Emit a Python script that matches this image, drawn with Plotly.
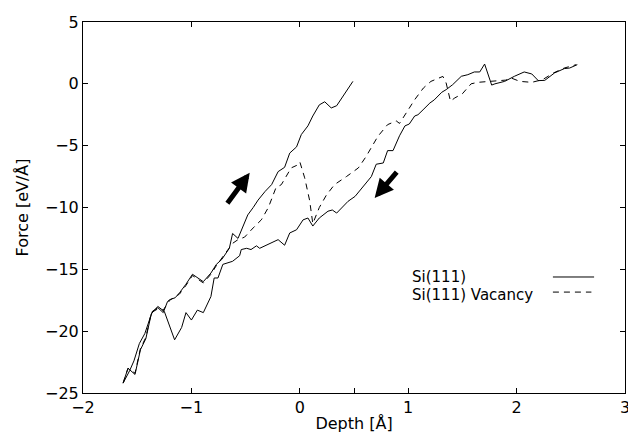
import plotly.graph_objects as go

# Si(111): loading branch (right end -> bottom) followed by unloading branch (bottom -> top)
si_x = [2.56, 2.49, 2.44, 2.35, 2.26, 2.20, 2.14, 2.07, 1.98, 1.89, 1.80, 1.77, 1.705, 1.66, 1.61,
        1.55, 1.49, 1.41, 1.35, 1.31, 1.24, 1.20, 1.137, 1.09, 1.06, 1.01, 0.97, 0.92, 0.86, 0.81,
        0.77, 0.705, 0.66, 0.58, 0.51, 0.445, 0.39, 0.34, 0.30, 0.26, 0.18, 0.12, 0.075, 0.03,
        -0.03, -0.093, -0.14, -0.20, -0.37, -0.40, -0.45, -0.49, -0.54, -0.555, -0.62, -0.68,
        -0.71, -0.755, -0.79, -0.82, -0.89, -0.945, -1.00, -1.05, -1.09, -1.155, -1.25, -1.31,
        -1.37, -1.42, -1.47, -1.52, -1.585, -1.63,
        -1.57, -1.53, -1.48, -1.43, -1.36, -1.31, -1.26, -1.22, -1.20, -1.15, -1.11, -1.05, -0.99,
        -0.89, -0.82, -0.77, -0.72, -0.65, -0.62, -0.57, -0.52, -0.48, -0.43, -0.385, -0.32,
        -0.26, -0.20, -0.14, -0.093, -0.03, 0.014, 0.075, 0.12, 0.18, 0.23, 0.29, 0.34, 0.40,
        0.445, 0.49]
si_y = [1.55, 1.28, 1.23, 0.88, 0.28, 0.26, 0.80, 0.96, 0.61, 0.20, 0.00, -0.10, 1.60, 0.96, 0.96,
        0.74, 0.61, -0.07, -0.47, -0.68, -1.30, -1.55, -2.10, -2.50, -2.60, -3.25, -3.40, -4.20, -5.40, -5.40,
        -6.40, -6.50, -7.50, -8.40, -9.10, -9.50, -10.00, -10.45, -10.20, -10.30, -10.85, -11.50, -10.85, -11.00,
        -11.80, -12.06, -13.05, -12.60, -13.30, -13.10, -13.40, -13.30, -13.40, -13.90, -14.35, -14.50,
        -14.60, -15.70, -15.70, -17.20, -18.50, -18.30, -19.10, -18.50, -19.70, -20.70, -18.40, -18.00,
        -18.60, -20.60, -21.50, -23.50, -23.00, -24.20,
        -23.20, -22.40, -21.00, -20.20, -18.40, -18.10, -18.50, -17.60, -17.45, -17.30, -16.90, -16.20, -15.40,
        -16.00, -15.30, -14.60, -14.20, -13.30, -12.10, -12.50, -11.50, -10.60, -10.00, -9.40, -8.70,
        -8.15, -7.10, -6.75, -5.60, -5.10, -4.10, -3.40, -2.60, -1.70, -1.45, -1.95, -1.77, -1.00,
        -0.47, 0.20]

# Si(111) Vacancy
vac_x = [-1.63, -1.585, -1.52, -1.47, -1.42, -1.37, -1.31, -1.26, -1.20, -1.11, -1.05, -0.99,
         -0.89, -0.82, -0.77, -0.68, -0.62, -0.57, -0.51, -0.43, -0.355, -0.29, -0.25, -0.22,
         -0.17, -0.125, -0.08, -0.03, 0.00, 0.045, 0.09, 0.12, 0.18, 0.245, 0.32, 0.43, 0.54,
         0.61, 0.675, 0.72, 0.81, 0.89, 0.92, 0.98, 1.06, 1.14, 1.21, 1.32, 1.35, 1.39, 1.43,
         1.50, 1.58, 1.64, 1.74, 1.81, 1.90, 1.95, 2.03, 2.14, 2.24, 2.34, 2.44, 2.55]
vac_y = [-24.20, -23.00, -23.40, -21.40, -20.50, -18.50, -18.20, -18.30, -17.50, -17.00, -16.30, -15.50,
         -16.10, -15.40, -14.70, -13.60, -12.90, -12.60, -12.40, -11.65, -11.00, -10.00, -9.10, -8.40,
         -8.15, -7.50, -6.80, -6.60, -6.30, -7.60, -9.40, -11.30, -10.00, -9.00, -8.15, -7.50, -6.80,
         -5.90, -4.90, -4.25, -3.30, -3.00, -3.20, -2.36, -1.28, -0.34, 0.20, 0.60, 0.07, -1.40, -1.14,
         -0.80, 0.00, 0.12, 0.20, 0.20, 0.30, 0.47, 0.20, 0.12, 0.34, 0.88, 1.28, 1.55]

# direction arrows: (tail_x, tail_y, tip_x, tip_y)
arrow_up = (-0.678, -9.77, -0.462, -7.20)
arrow_down = (0.906, -7.02, 0.690, -9.23)

x_ticks = [-2, -1, 0, 0.5, 1, 2, 3]
x_ticktext = ["\u22122", "\u22121", "0", "", "1", "2", "3"]
y_ticks = [-25, -20, -15, -10, -5, 0, 5]
y_ticktext = ["\u221225", "\u221220", "\u221215", "\u221210", "\u22125", "0", "5"]

legend_names = ["Si(111)", "Si(111) Vacancy"]

FONT = "DejaVu Sans"

fig = go.Figure()
fig.add_trace(go.Scatter(x=vac_x, y=vac_y, mode="lines", name=legend_names[1],
                         line=dict(color="black", width=1, dash="6px,5px"), showlegend=False))
fig.add_trace(go.Scatter(x=si_x, y=si_y, mode="lines", name=legend_names[0],
                         line=dict(color="black", width=1), showlegend=False))

for tx, ty, hx, hy in (arrow_up, arrow_down):
    fig.add_annotation(x=hx, y=hy, ax=tx, ay=ty, xref="x", yref="y", axref="x", ayref="y",
                       text="", showarrow=True, arrowhead=2, arrowsize=0.75, arrowwidth=5,
                       arrowcolor="black")

# legend drawn as text + sample lines (sample to the right of the text)
fig.add_annotation(x=0.603, y=0.312, xref="paper", yref="paper", text=legend_names[0],
                   showarrow=False, xanchor="left", yanchor="middle",
                   font=dict(family=FONT, size=15, color="black"))
fig.add_annotation(x=0.603, y=0.263, xref="paper", yref="paper", text=legend_names[1],
                   showarrow=False, xanchor="left", yanchor="middle",
                   font=dict(family=FONT, size=15, color="black"))
fig.add_shape(type="line", xref="paper", yref="paper", x0=0.867, x1=0.943, y0=0.3127, y1=0.3127,
              line=dict(color="black", width=1))
fig.add_shape(type="line", xref="paper", yref="paper", x0=0.867, x1=0.938, y0=0.272, y1=0.272,
              line=dict(color="black", width=1, dash="6px,5px"))

axis_common = dict(showgrid=False, zeroline=False, showline=True, linecolor="black", linewidth=1,
                   mirror="ticks", ticks="inside", ticklen=5, tickwidth=1, tickcolor="black",
                   tickfont=dict(family=FONT, size=16, color="black"))

fig.update_xaxes(range=[-2, 3], tickvals=x_ticks, ticktext=x_ticktext,
                 title=dict(text="Depth [Å]", font=dict(family=FONT, size=16, color="black"), standoff=1),
                 **axis_common)
fig.update_yaxes(range=[-25, 5], tickvals=y_ticks, ticktext=y_ticktext,
                 title=dict(text="Force [eV/Å]", font=dict(family=FONT, size=16, color="black"), standoff=12),
                 **axis_common)

fig.update_layout(width=636, height=432, margin=dict(l=75, r=19, t=14, b=47, autoexpand=False),
                  plot_bgcolor="white", paper_bgcolor="white", showlegend=False,
                  font=dict(family=FONT, size=16, color="black"))

fig.write_html("out.html")
